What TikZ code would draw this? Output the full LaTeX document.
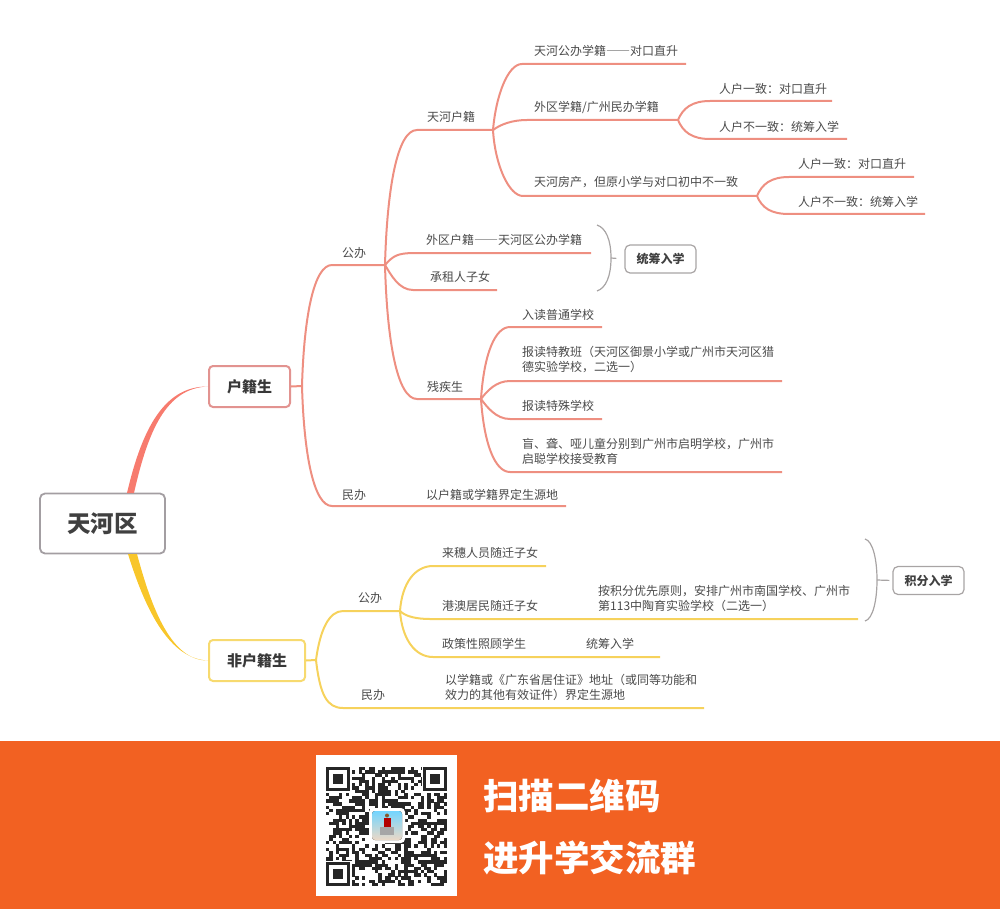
\documentclass[tikz,border=0pt]{standalone}
\usepackage{fontspec}
\setmainfont{Noto Sans CJK SC}
\newcommand{\longdash}{{\addfontfeatures{CharacterWidth=Full}——}}
\definecolor{inkgray}{HTML}{4A4A4A}
\definecolor{rootgray}{HTML}{A39EA2}
\definecolor{redline}{HTML}{EE8F81}
\definecolor{redbox}{HTML}{E29390}
\definecolor{redmain}{HTML}{F77B6E}
\definecolor{yelline}{HTML}{F6D25C}
\definecolor{yelbox}{HTML}{F7DA6F}
\definecolor{yelmain}{HTML}{F8C62A}
\definecolor{bargray}{HTML}{A8A4A4}
\definecolor{barorange}{HTML}{F26122}
\tikzset{
	lab/.style={anchor=west,inner sep=0pt,text=inkgray,align=left,font=\fontsize{12}{15}\selectfont},
	rootbox/.style={draw=rootgray,line width=1.8pt,rounded corners=5pt,minimum width=125pt,minimum height=60pt,text=black!75,font=\fontsize{23.5}{26}\selectfont\bfseries},
	redtopic/.style={draw=redbox,line width=2pt,rounded corners=4pt,minimum width=81pt,minimum height=41pt,text=black!78,font=\fontsize{15}{18}\selectfont\bfseries},
	yeltopic/.style={draw=yelbox,line width=2pt,rounded corners=4pt,minimum width=96pt,minimum height=41pt,text=black!78,font=\fontsize{15}{18}\selectfont\bfseries},
	tagbox/.style={draw=bargray,line width=1.2pt,rounded corners=5pt,minimum width=71pt,minimum height=28pt,text=black!75,font=\fontsize{12}{15}\selectfont\bfseries},
	redbranch/.style={draw=redline,line width=2pt},
	yelbranch/.style={draw=yelline,line width=2pt},
	bracket/.style={draw=bargray,line width=1.2pt},
	bannertext/.style={anchor=west,inner sep=0pt,text=white,font=\fontsize{35.5}{40}\selectfont\bfseries}
}
\begin{document}
\begin{tikzpicture}[x=1pt,y=-1pt]
	\useasboundingbox (0,0) rectangle (1000,909);
	\node[rootbox] (root) at (102.5,523.5) {天河区};
	\node[redtopic] (huji) at (249.5,386.5) {户籍生};
	\node[yeltopic] (feihuji) at (257,660.5) {非户籍生};
	\node[tagbox] (tongchou) at (660.5,259) {统筹入学};
	\node[tagbox] (jifen) at (928.5,580.5) {积分入学};

	% free ends of the branches
	\coordinate (hujiroot) at (302,386);
	\coordinate (gb1) at (332,265);   \coordinate (gb2) at (385,265);
	\coordinate (mb1) at (332,506);   \coordinate (mb2) at (566,506);
	\coordinate (thhj1) at (417,130); \coordinate (thhj2) at (493,130);
	\coordinate (wqhj1) at (415,253); \coordinate (wqhj2) at (591,253);
	\coordinate (zl1) at (413,290);   \coordinate (zl2) at (497,290);
	\coordinate (cj1) at (417,399);   \coordinate (cj2) at (481,399);
	\coordinate (gbxj1) at (522,64);  \coordinate (gbxj2) at (686,64);
	\coordinate (wqxj1) at (527,120); \coordinate (wqxj2) at (678,120);
	\coordinate (fc1) at (523,196);   \coordinate (fc2) at (757,196);
	\coordinate (yz1) at (710,101);   \coordinate (yz2) at (832,101);
	\coordinate (byz1) at (710,139);  \coordinate (byz2) at (847,139);
	\coordinate (fyz1) at (789,177);  \coordinate (fyz2) at (914,177);
	\coordinate (fbyz1) at (789,214); \coordinate (fbyz2) at (925,214);
	\coordinate (pt1) at (510,327);   \coordinate (pt2) at (602,327);
	\coordinate (tj1) at (510,381);   \coordinate (tj2) at (782,381);
	\coordinate (ts1) at (510,419);   \coordinate (ts2) at (602,419);
	\coordinate (mn1) at (510,472);   \coordinate (mn2) at (782,472);
	\coordinate (feiroot) at (316,660);
	\coordinate (ygb1) at (343,611);  \coordinate (ygb2) at (400,611);
	\coordinate (ymb1) at (343,708);  \coordinate (ymb2) at (704,708);
	\coordinate (ls1) at (433,566);   \coordinate (ls2) at (546,566);
	\coordinate (ga1) at (430,619);   \coordinate (ga2) at (858,619);
	\coordinate (zc1) at (433,657);   \coordinate (zc2) at (660,657);

	% main branches, thick at the root
	\fill[redmain] (huji.west) .. controls (164,386) and (142,429) .. (127,493) -- (134,493) .. controls (148,431) and (166,388) .. (huji.west) -- cycle;
	\fill[yelmain] (feihuji.west) .. controls (170,659) and (146,612) .. (128,554) -- (137,554) .. controls (152,610) and (172,661) .. (feihuji.west) -- cycle;

	\draw[redbranch] (huji.east) -- (hujiroot);
	\draw[redbranch] (hujiroot) .. controls +(2,-70) and +(-18,0) .. (gb1) -- (gb2);
	\draw[redbranch] (hujiroot) .. controls +(2,70) and +(-18,0) .. (mb1) -- (mb2);
	\draw[redbranch] (gb2) .. controls +(2,-75) and +(-20,0) .. (thhj1) -- (thhj2);
	\draw[redbranch] (gb2) .. controls +(8,-9) and +(-18,0) .. (wqhj1) -- (wqhj2);
	\draw[redbranch] (gb2) .. controls +(6,10) and +(-14,0) .. (zl1) -- (zl2);
	\draw[redbranch] (gb2) .. controls +(2,75) and +(-20,0) .. (cj1) -- (cj2);
	\draw[redbranch] (thhj2) .. controls +(3,-35) and +(-14,0) .. (gbxj1) -- (gbxj2);
	\draw[redbranch] (thhj2) .. controls +(8,-6) and +(-14,0) .. (wqxj1) -- (wqxj2);
	\draw[redbranch] (thhj2) .. controls +(2,35) and +(-14,0) .. (fc1) -- (fc2);
	\draw[redbranch] (wqxj2) .. controls +(5,-12) and +(-18,0) .. (yz1) -- (yz2);
	\draw[redbranch] (wqxj2) .. controls +(5,12) and +(-18,0) .. (byz1) -- (byz2);
	\draw[redbranch] (fc2) .. controls +(5,-12) and +(-18,0) .. (fyz1) -- (fyz2);
	\draw[redbranch] (fc2) .. controls +(5,12) and +(-18,0) .. (fbyz1) -- (fbyz2);
	\draw[redbranch] (cj2) .. controls +(3,-45) and +(-15,0) .. (pt1) -- (pt2);
	\draw[redbranch] (cj2) .. controls +(6,-8) and +(-14,0) .. (tj1) -- (tj2);
	\draw[redbranch] (cj2) .. controls +(6,8) and +(-14,0) .. (ts1) -- (ts2);
	\draw[redbranch] (cj2) .. controls +(3,45) and +(-15,0) .. (mn1) -- (mn2);

	\draw[yelbranch] (feihuji.east) -- (feiroot);
	\draw[yelbranch] (feiroot) .. controls +(4,-30) and +(-14,0) .. (ygb1) -- (ygb2);
	\draw[yelbranch] (feiroot) .. controls +(4,35) and +(-16,0) .. (ymb1) -- (ymb2);
	\draw[yelbranch] (ygb2) .. controls +(2,-28) and +(-18,0) .. (ls1) -- (ls2);
	\draw[yelbranch] (ygb2) .. controls +(6,6) and +(-12,0) .. (ga1) -- (ga2);
	\draw[yelbranch] (ygb2) .. controls +(2,28) and +(-18,0) .. (zc1) -- (zc2);

	% brackets beside the tags
	\coordinate (brace1) at (597,225);
	\coordinate (brace2) at (597,291);
	\coordinate (brace3) at (611,258);
	\draw[bracket] (brace1) .. controls (606,228) and (611,240) .. (brace3) .. controls (611,276) and (606,288) .. (brace2);
	\draw[bracket,shorten >=8pt] (brace3) -- (tongchou.west);
	\coordinate (brace4) at (865,539);
	\coordinate (brace5) at (865,621);
	\coordinate (brace6) at (877,580);
	\draw[bracket] (brace4) .. controls (873,541) and (877,560) .. (brace6) .. controls (877,600) and (873,619) .. (brace5);
	\draw[bracket,shorten >=3pt] (brace6) -- (jifen.west);

	\node[lab] (t1) at (534,50.5) {天河公办学籍\longdash 对口直升};
	\node[lab] (t2) at (534,107.5) {外区学籍/广州民办学籍};
	\node[lab] (t3) at (719,88.5) {人户一致：对口直升};
	\node[lab] (t4) at (719,126.5) {人户不一致：统筹入学};
	\node[lab] (t5) at (534,182.5) {天河房产，但原小学与对口初中不一致};
	\node[lab] (t6) at (798,163.5) {人户一致：对口直升};
	\node[lab] (t7) at (798,201.5) {人户不一致：统筹入学};
	\node[lab] (t8) at (427,116.5) {天河户籍};
	\node[lab] (t9) at (342,252.5) {公办};
	\node[lab] (t10) at (426,239.5) {外区户籍\longdash 天河区公办学籍};
	\node[lab] (t11) at (430,276.5) {承租人子女};
	\node[lab] (t12) at (522,314.5) {入读普通学校};
	\node[lab] (t13) at (522,360) {报读特教班（天河区御景小学或广州市天河区猎\\德实验学校，二选一）};
	\node[lab] (t14) at (522,405.5) {报读特殊学校};
	\node[lab] (t15) at (522,451) {盲、聋、哑儿童分别到广州市启明学校，广州市\\启聪学校接受教育};
	\node[lab] (t16) at (427,386.5) {残疾生};
	\node[lab] (t17) at (342,494.5) {民办};
	\node[lab] (t18) at (426,494.5) {以户籍或学籍界定生源地};
	\node[lab] (t19) at (442,552.5) {来穗人员随迁子女};
	\node[lab] (t20) at (442,605.5) {港澳居民随迁子女};
	\node[lab] (t21) at (598,598) {按积分优先原则，安排广州市南国学校、广州市\\第113中陶育实验学校（二选一）};
	\node[lab] (t22) at (358,597.5) {公办};
	\node[lab] (t23) at (442,643.5) {政策性照顾学生};
	\node[lab] (t24) at (586,643.5) {统筹入学};
	\node[lab] (t25) at (361,694.5) {民办};
	\node[lab] (t26) at (445,687) {以学籍或《广东省居住证》地址（或同等功能和\\效力的其他有效证件）界定生源地};

	% banner with the code
	\fill[barorange] (0,741) rectangle (1000,909);
	\fill[white] (316,755) rectangle (457,896);
	\pgfmathsetseed{2023}
	\foreach \col in {0,...,36}{
		\foreach \row in {0,...,36}{
			\pgfmathrandominteger{\qrbit}{0}{1}
			\ifnum\qrbit=1
				\fill[black!85] (326+3.27*\col,767+3.22*\row) rectangle +(3.3,3.3);
			\fi
		}
	}
	\foreach \fx/\fy in {326/767,423/767,326/862}{
		\fill[white] (\fx-1,\fy-1) rectangle +(27,27);
		\fill[black!85] (\fx,\fy) rectangle +(24,24);
		\fill[white] (\fx+3.3,\fy+3.3) rectangle +(17.4,17.4);
		\fill[black!85] (\fx+6.6,\fy+6.6) rectangle +(10.8,10.8);
	}
	\fill[white,rounded corners=4pt] (369,808) rectangle (405,843);
	\fill[top color=blue!30!cyan!55,bottom color=brown!30,rounded corners=3pt] (372,811) rectangle (402,840);
	\fill[red!70!black] (384,818) rectangle (391,827);
	\fill[brown!70!black] (387,815.5) circle (2);
	\fill[gray!70!white] (380,827) rectangle (394,835);
	\node[bannertext] (scan) at (483,796) {扫描二维码};
	\node[bannertext] (group) at (483,858) {进升学交流群};
\end{tikzpicture}
\end{document}
